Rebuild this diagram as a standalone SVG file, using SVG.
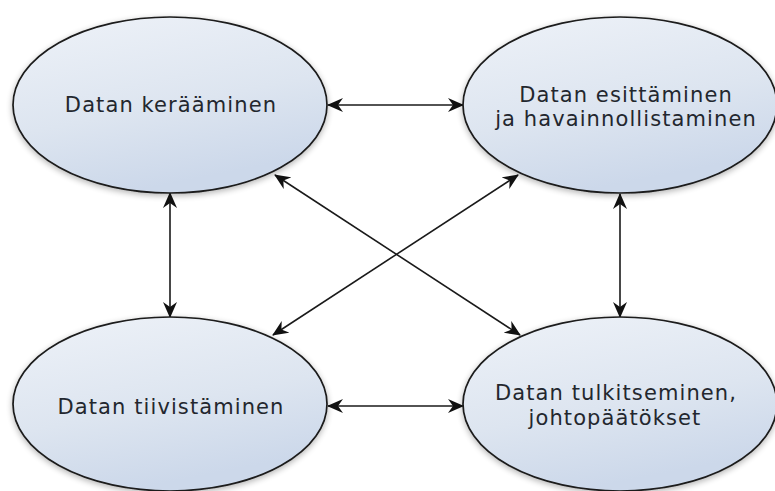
<svg xmlns="http://www.w3.org/2000/svg" width="775" height="491" viewBox="0 0 775 491">
  <defs>
    <linearGradient id="nodeFill" x1="0" y1="0" x2="0.35" y2="1">
      <stop offset="0" stop-color="#eef2f8"/>
      <stop offset="0.6" stop-color="#dde5f0"/>
      <stop offset="1" stop-color="#ccd8ea"/>
    </linearGradient>
    <filter id="glow" x="-10%" y="-10%" width="120%" height="125%">
      <feGaussianBlur in="SourceAlpha" stdDeviation="3"/>
      <feOffset dx="0" dy="2" result="blur"/>
      <feComponentTransfer><feFuncA type="linear" slope="0.3"/></feComponentTransfer>
      <feMerge><feMergeNode/><feMergeNode in="SourceGraphic"/></feMerge>
    </filter>
    <marker id="head" viewBox="0 0 16 14" refX="15" refY="7" markerWidth="16" markerHeight="14" markerUnits="userSpaceOnUse" orient="auto-start-reverse">
      <path d="M0,0 L16,7 L0,14 L5,7 Z" fill="#111"/>
    </marker>
  </defs>
  <style>
    .node ellipse { fill: url(#nodeFill); stroke: #1a1a1a; stroke-width: 1.7; filter: url(#glow); }
    .node text { font-family: "DejaVu Sans", Verdana, sans-serif; font-size: 21px; letter-spacing: 1.1px; fill: #23272e; text-anchor: middle; }
    .edge { stroke: #1a1a1a; stroke-width: 1.6; fill: none; marker-start: url(#head); marker-end: url(#head); }
  </style>
  <rect width="775" height="491" fill="#ffffff"/>

  <g id="connectors">
    <line class="edge" x1="328" y1="105" x2="463" y2="105"/>
    <line class="edge" x1="328" y1="406" x2="463" y2="406"/>
    <line class="edge" x1="170" y1="193" x2="170" y2="317"/>
    <line class="edge" x1="620" y1="194" x2="620" y2="317"/>
    <line class="edge" x1="275" y1="175" x2="520" y2="335"/>
    <line class="edge" x1="518" y1="175" x2="273" y2="335"/>
  </g>

  <g id="keraaminen" class="node">
    <ellipse cx="170" cy="105" rx="157" ry="88"/>
    <text x="171" y="112">Datan kerääminen</text>
  </g>

  <g id="esittaminen" class="node">
    <ellipse cx="620" cy="105" rx="157" ry="88"/>
    <text x="626" y="102">Datan esittäminen</text>
    <text x="626" y="126">ja havainnollistaminen</text>
  </g>

  <g id="tiivistaminen" class="node">
    <ellipse cx="170" cy="404" rx="157" ry="87"/>
    <text x="171" y="414">Datan tiivistäminen</text>
  </g>

  <g id="tulkitseminen" class="node">
    <ellipse cx="620" cy="404" rx="157" ry="87"/>
    <text x="616" y="400">Datan tulkitseminen,</text>
    <text x="615" y="425">johtopäätökset</text>
  </g>
</svg>
